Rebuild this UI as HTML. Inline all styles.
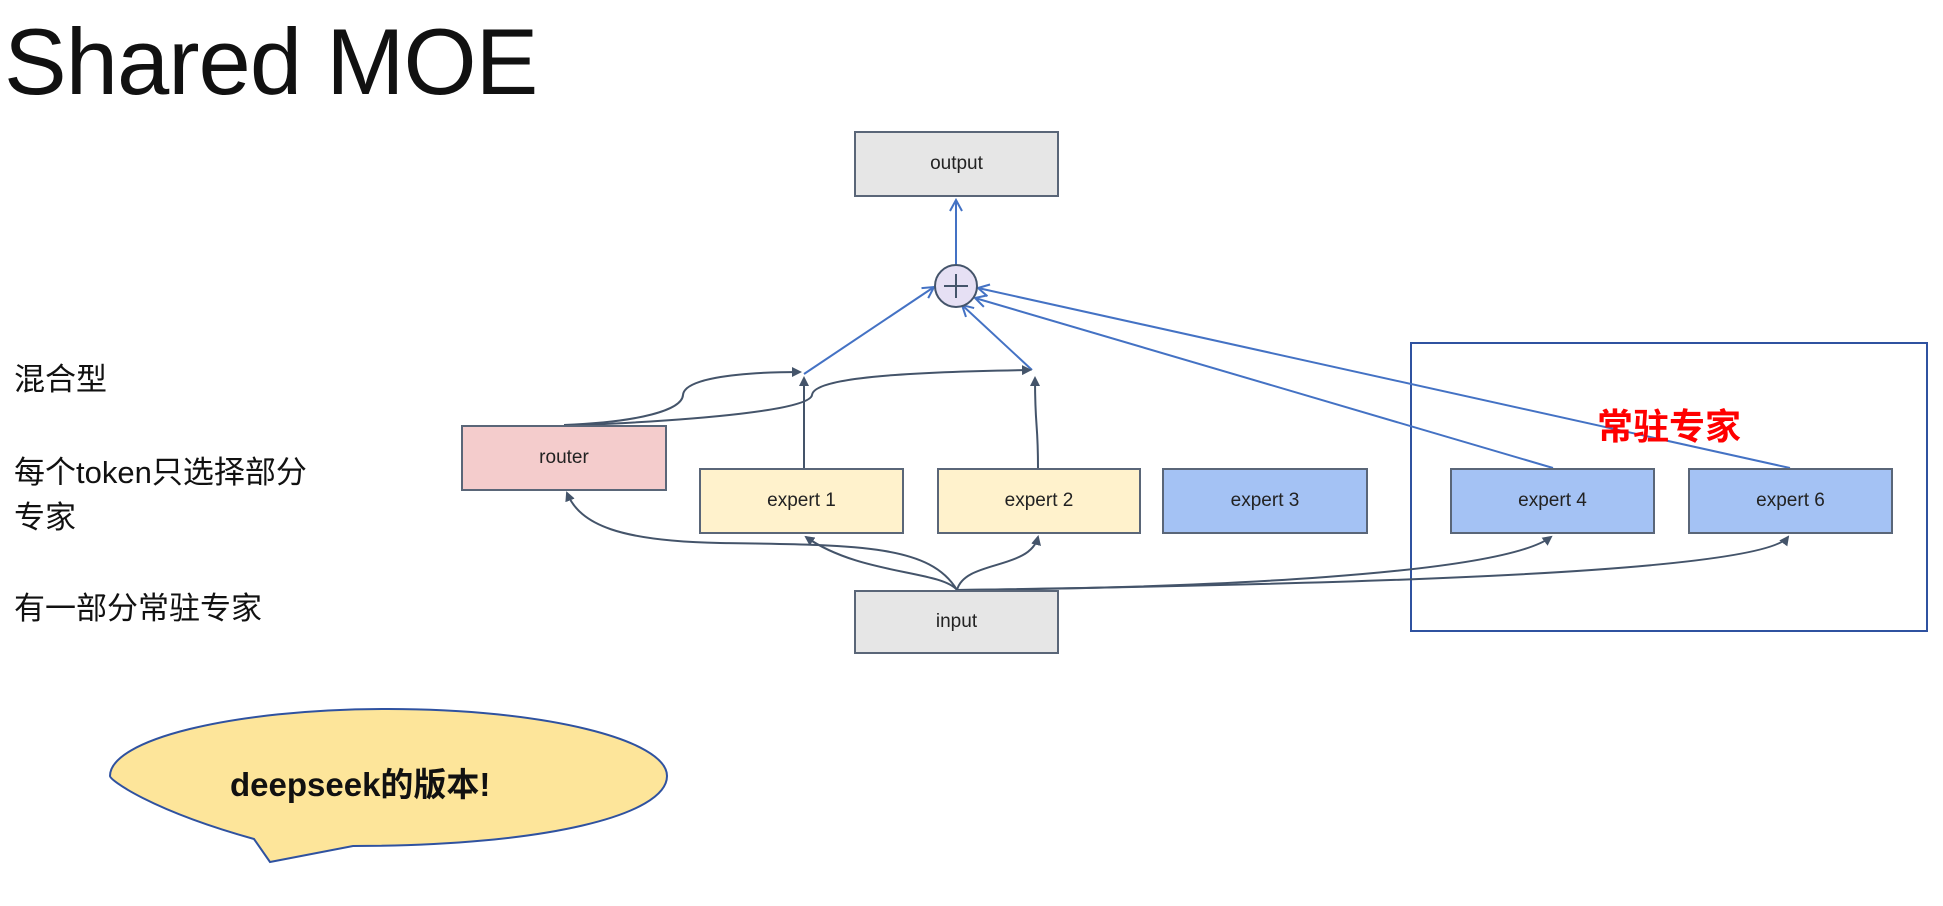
<!DOCTYPE html>
<html><head><meta charset="utf-8"><style>
body{margin:0;width:1943px;height:906px;background:#fff;position:relative;overflow:hidden;font-family:"Liberation Sans","Noto Sans CJK SC",sans-serif;}
.t{position:absolute;white-space:nowrap;}
.b{position:absolute;border:2px solid #5a6678;box-sizing:border-box;display:flex;align-items:center;justify-content:center;font-size:19px;color:#222;}
</style></head><body>
<div class="t" style="left:4px;top:8px;font-size:94px;font-weight:300;color:#111;letter-spacing:-1px;">Shared MOE</div>
<div class="t" style="left:14px;top:354px;font-size:31px;color:#111;">混合型</div>
<div class="t" style="left:14px;top:447px;font-size:31px;color:#111;">每个token只选择部分</div>
<div class="t" style="left:14px;top:492px;font-size:31px;color:#111;">专家</div>
<div class="t" style="left:14px;top:583px;font-size:31px;color:#111;">有一部分常驻专家</div>

<svg width="1943" height="906" style="position:absolute;left:0;top:0">
<defs>
<marker id="da" markerWidth="10" markerHeight="10" refX="8" refY="5" orient="auto" markerUnits="userSpaceOnUse"><path d="M0,0 L10,5 L0,10 z" fill="#44546a"/></marker>
<marker id="bo" markerWidth="14" markerHeight="14" refX="12" refY="7" orient="auto" markerUnits="userSpaceOnUse"><path d="M1,1 L12,7 L1,13" fill="none" stroke="#4472c4" stroke-width="2"/></marker>
</defs>
<rect x="1411" y="343" width="516" height="288" fill="none" stroke="#2f52a0" stroke-width="2"/>
<!-- bubble -->
<path d="M254,839 C150,810 110,780 110,776 C110,740 230,709 388,709 C545,709 667,740 667,776 C667,815 545,846 353,846 L270,862 Z" fill="#fde59a" stroke="#2f52a0" stroke-width="2"/>
<!-- blue -->
<g stroke="#4472c4" stroke-width="2" fill="none">
<line x1="956" y1="265" x2="956" y2="200" marker-end="url(#bo)"/>
<line x1="804" y1="374" x2="934" y2="287" marker-end="url(#bo)"/>
<line x1="1032" y1="370" x2="962" y2="305" marker-end="url(#bo)"/>
<line x1="1553" y1="468" x2="975" y2="298" marker-end="url(#bo)"/>
<line x1="1790" y1="468" x2="978" y2="288" marker-end="url(#bo)"/>
</g>
<!-- dark -->
<g stroke="#44546a" stroke-width="2" fill="none">
<line x1="804" y1="468" x2="804" y2="378" marker-end="url(#da)"/>
<path d="M1038,468 C1038,420 1035,430 1035,378" marker-end="url(#da)"/>
<path d="M564,425 C640,422 682,410 683,395 C684,380 730,372 800,372" marker-end="url(#da)"/>
<path d="M582,425 C700,420 810,410 812,395 C814,378 900,372 1030,370" marker-end="url(#da)"/>
<path d="M957,590 C930,545 860,545 720,543 C620,541 580,525 567,493" marker-end="url(#da)"/>
<path d="M957,590 C940,570 860,575 806,537" marker-end="url(#da)"/>
<path d="M957,590 C965,560 1030,570 1038,537" marker-end="url(#da)"/>
<path d="M957,590 C1200,588 1500,575 1551,537" marker-end="url(#da)"/>
<path d="M957,590 C1300,585 1760,575 1788,537" marker-end="url(#da)"/>
</g>
<circle cx="956" cy="286" r="21" fill="#e6e0f4" stroke="#44546a" stroke-width="2"/>
<line x1="944" y1="286" x2="968" y2="286" stroke="#44546a" stroke-width="2"/>
<line x1="956" y1="274" x2="956" y2="298" stroke="#44546a" stroke-width="2"/>
</svg>

<div class="b" style="left:854px;top:131px;width:205px;height:66px;background:#e6e6e6;">output</div>
<div class="b" style="left:461px;top:425px;width:206px;height:66px;background:#f4cccc;">router</div>
<div class="b" style="left:699px;top:468px;width:205px;height:66px;background:#fff2cc;">expert 1</div>
<div class="b" style="left:937px;top:468px;width:204px;height:66px;background:#fff2cc;">expert 2</div>
<div class="b" style="left:1162px;top:468px;width:206px;height:66px;background:#a4c2f4;">expert 3</div>
<div class="b" style="left:1450px;top:468px;width:205px;height:66px;background:#a4c2f4;">expert 4</div>
<div class="b" style="left:1688px;top:468px;width:205px;height:66px;background:#a4c2f4;">expert 6</div>
<div class="b" style="left:854px;top:590px;width:205px;height:64px;background:#e6e6e6;">input</div>
<div class="t" style="left:1597px;top:398px;font-size:36px;font-weight:bold;color:#ff0000;">常驻专家</div>
<div class="t" style="left:230px;top:758px;font-size:33px;font-weight:bold;color:#111;">deepseek的版本!</div>
</body></html>
